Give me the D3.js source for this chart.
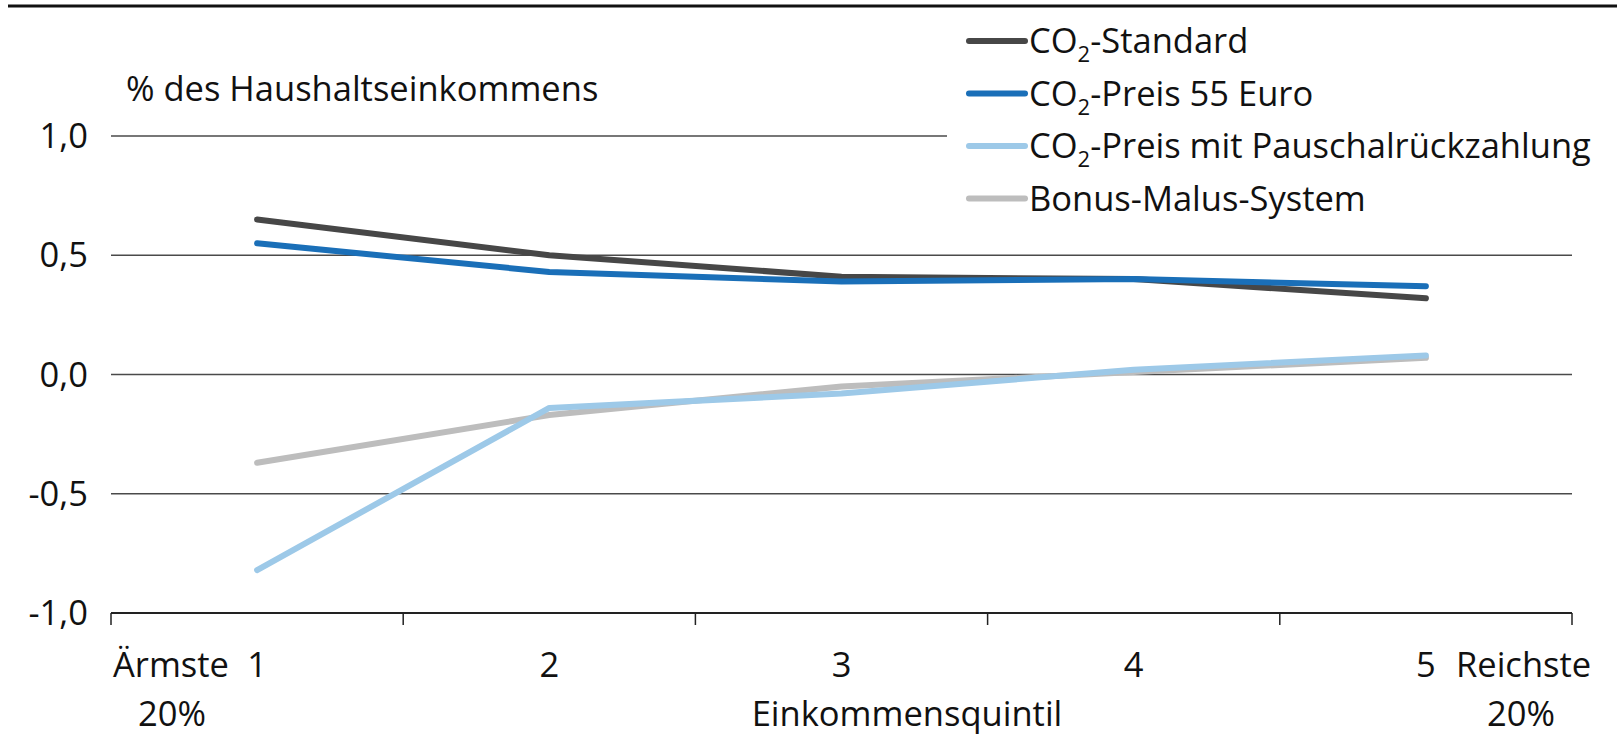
<!DOCTYPE html>
<html>
<head>
<meta charset="utf-8">
<script src="https://cdn.jsdelivr.net/npm/d3@7"></script>
<style>
  body { margin: 0; background: #fff; }
  text { font-family: "Open Sans", "Noto Sans", sans-serif; fill: #111; }
</style>
</head>
<body>
<svg id="chart" width="1617" height="742"></svg>
<script>
    // data
    const quintiles = [1, 2, 3, 4, 5];
    const yTicks = [-1, -0.5, 0, 0.5, 1];
    const gridTicks = [-0.5, 0, 0.5, 1];
    const seriesNames = ["CO2-Standard", "CO2-Preis 55 Euro", "CO2-Preis mit Pauschalrückzahlung", "Bonus-Malus-System"];
    const standard = [0.65, 0.50, 0.41, 0.40, 0.32];
    const preis55 = [0.55, 0.43, 0.39, 0.40, 0.37];
    const pauschal = [-0.82, -0.14, -0.08, 0.02, 0.08];
    const bonusMalus = [-0.37, -0.17, -0.05, 0.01, 0.07];
    const colors = ["#474747", "#1a6fb8", "#9dc9e8", "#bdbdbd"];

    const fs = 34.5; // font size
    const svg = d3.select("#chart");
    const width = +svg.attr("width");
    const height = +svg.attr("height");
    const margin = { top: 136, right: 45, bottom: 129, left: 111 };

    const x = d3.scaleBand()
                .domain(quintiles)
                .range([margin.left, width - margin.right])
                .padding(0);
    const y = d3.scaleLinear()
                .domain([-1, 1])
                .range([height - margin.bottom, margin.top]);

    // top rule
    svg.append("line")
        .attr("x1", 8).attr("x2", width)
        .attr("y1", 6).attr("y2", 6)
        .attr("stroke", "#111").attr("stroke-width", 3);

    // gridlines
    svg.append("g")
        .selectAll("line")
        .data(gridTicks)
        .join("line")
        .attr("x1", margin.left).attr("x2", width - margin.right)
        .attr("y1", d => y(d)).attr("y2", d => y(d))
        .attr("stroke", "#4a4a4a").attr("stroke-width", 1.5);

    // y labels
    const fmt = d => d3.format(".1f")(d).replace(".", ",").replace("−", "-");
    svg.append("g")
        .selectAll("text")
        .data(yTicks)
        .join("text")
        .attr("x", 88).attr("y", d => y(d))
        .attr("dy", "0.35em")
        .attr("text-anchor", "end")
        .attr("font-size", fs)
        .text(fmt);

    svg.append("text")
        .attr("x", 126).attr("y", 101)
        .attr("font-size", fs)
        .text("% des Haushaltseinkommens");

    // x axis at -1
    const bounds = quintiles.map(q => x(q)).concat([x.range()[1]]);
    const axis = svg.append("g");
    axis.append("line")
        .attr("x1", margin.left).attr("x2", width - margin.right)
        .attr("y1", y(-1)).attr("y2", y(-1))
        .attr("stroke", "#222").attr("stroke-width", 2);
    axis.selectAll(".tick")
        .data(bounds)
        .join("line")
        .attr("class", "tick")
        .attr("x1", d => d).attr("x2", d => d)
        .attr("y1", y(-1)).attr("y2", y(-1) + 12)
        .attr("stroke", "#222").attr("stroke-width", 1.5);
    axis.selectAll(".qlabel")
        .data(quintiles)
        .join("text")
        .attr("class", "qlabel")
        .attr("x", d => x(d) + x.bandwidth() / 2)
        .attr("y", 677)
        .attr("text-anchor", "middle")
        .attr("font-size", fs)
        .text(d => d);

    axis.append("text").attr("x", 113).attr("y", 677).attr("font-size", fs).text("Ärmste");
    axis.append("text").attr("x", 172).attr("y", 726).attr("text-anchor", "middle").attr("font-size", fs).text("20%");
    axis.append("text").attr("x", 1456).attr("y", 677).attr("font-size", fs).text("Reichste");
    axis.append("text").attr("x", 1521).attr("y", 726).attr("text-anchor", "middle").attr("font-size", fs).text("20%");
    axis.append("text").attr("x", 907).attr("y", 726).attr("text-anchor", "middle").attr("font-size", fs).text("Einkommensquintil");

    // lines
    const allSeries = [standard, preis55, pauschal, bonusMalus];
    const line = d3.line()
                   .x((d, i) => x(quintiles[i]) + x.bandwidth() / 2)
                   .y(d => y(d));
    const order = [3, 2, 0, 1]; // draw light ones first
    svg.append("g")
        .selectAll("path")
        .data(order)
        .join("path")
        .attr("d", k => line(allSeries[k]))
        .attr("fill", "none")
        .attr("stroke", k => colors[k])
        .attr("stroke-width", 6)
        .attr("stroke-linecap", "round")
        .attr("stroke-linejoin", "round");

    // legend
    const legend = svg.append("g");
    legend.append("rect")
        .attr("x", 947).attr("y", 16)
        .attr("width", width - 947).attr("height", 205)
        .attr("fill", "#fff");
    const rows = legend.selectAll(".row")
        .data(seriesNames)
        .join("g")
        .attr("class", "row")
        .attr("transform", (d, i) => "translate(0," + (41 + i * 52.5) + ")");
    rows.append("line")
        .attr("x1", 969).attr("x2", 1025)
        .attr("stroke", (d, i) => colors[i])
        .attr("stroke-width", 6)
        .attr("stroke-linecap", "round");
    const label = rows.append("text")
        .attr("x", 1029).attr("dy", "0.35em")
        .attr("font-size", fs);
    label.each(function(d) {
        const t = d3.select(this);
        if (d.startsWith("CO2")) {
            t.append("tspan").text("CO");
            t.append("tspan").attr("font-size", 22).attr("dy", 9).text("2");
            t.append("tspan").attr("dy", -9).text(d.slice(3));
        } else {
            t.text(d);
        }
    });
</script>
</body>
</html>
